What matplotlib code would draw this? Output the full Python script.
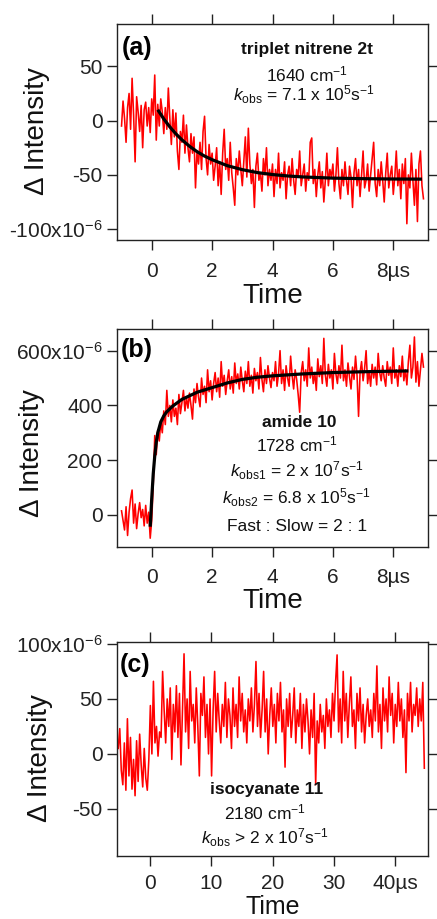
import numpy as np
import matplotlib
matplotlib.use("Agg")
import matplotlib.pyplot as plt
from matplotlib.ticker import FixedLocator, FixedFormatter

plt.rcParams['font.family'] = ['Liberation Sans', 'DejaVu Sans']
plt.rcParams['mathtext.fontset'] = 'custom'
plt.rcParams['mathtext.rm'] = 'Liberation Sans'
plt.rcParams['mathtext.it'] = 'Liberation Sans:italic'
plt.rcParams['mathtext.bf'] = 'Liberation Sans:bold'

# ---------------- data (x10^-6) ----------------
# panel (a): triplet nitrene 2t, t = -1.00 ... 9.00 us step 0.05
t_a_start, t_a_step = -1.0, 0.05
sig_a = [
    -5, 18, 2, -20, 12, 25, -8, 39, 5, -38, 22, 8, -10, 14, -25, 10, 17, -5, 12, -11, 20, 5, 42, -18,
    15, -5, 20, 8, -12, 12, -8, 30, 2, -22, 10, -15, 7, -28, -45, -10, -20, 5, -30, -4, -25, -38, -12,
    -30, -15, -62, -28, -40, -20, -45, -10, 4, -35, -50, -22, -40, -30,
    -55, -42, -25, -60, -38, -68, -30, -8, -45, -35, -55, -20, -48, -62, -78, -35, -50, -28, -45, -60,
    -38, -15, -52, -7, -40, -58, -45, -80, -42, -30, -55, -48, -65, -35, -50, -25, -60, -45, -55, -40,
    -70, -45, -58, -30, -62, -48, -55, -38, -72, -50, -42, -60, -35, -55, -68, -45, -52, -28, -60, -50,
    -40, -65, -48, -55, -20, -16, -58, -45, -70, -50, -38, -62, -47, -75, -55, -30, -60, -45, -52, -40,
    -65, -50, -25, -58, -72, -45, -60, -38, -55, -68, -42, -52, -80, -48, -35, -60, -45, -70, -50, -28,
    -62, -55, -40, -65, -50, -35, -20, -58, -70, -45, -60, -38, -55, -75, -48, -30, -62, -50, -42, -68,
    -52, -28, -60, -45, -72, -40, -58, -35, -95, -50, -62, -30, -55, -78, -45, -93, -40, -28, -60, -72,
]
fit_a_t = [0.2, 0.4, 0.6, 0.8, 1.0, 1.25, 1.5, 1.75, 2.0, 2.5, 3.0, 3.5, 4.0, 4.5, 5.0, 6.0, 7.0, 8.0, 8.95]
fit_a_y = [10, 1.5, -5.8, -12.2, -17.7, -23.6, -28.6, -32.7, -36, -41.5, -45.2, -47.9, -49.7, -51,
           -51.9, -53, -53.5, -53.8, -53.9]

# panel (b): amide 10, t = -1.00 ... 9.00 us step 0.05
t_b_start, t_b_step = -1.0, 0.05
sig_b = [
    15, -20, -55, 30, -75, 10, 60, 91, -30, 40, -50, 5, 45, -10, 20, -40, 35, -30, 10, -85,
    -20, 110, 290, 220, 310, 270, 340, 300, 380, 330, 455, 360, 400, 340, 420, 360, 390, 330, 440, 370,
    410, 455, 380, 430, 390, 445, 400, 350, 460, 410, 480, 430, 395, 500, 440, 470, 410, 530, 450, 490, 420,
    480, 520, 450, 500, 430, 560, 470, 510, 440, 490, 530, 460, 505, 445, 555, 480, 515, 460, 540, 490,
    450, 525, 480, 560, 470, 510, 445, 535, 490, 520, 460, 575, 495, 450, 530, 480, 545, 500, 465, 520,
    490, 560, 470, 515, 600, 480, 530, 455, 545, 500, 470, 580, 510, 460, 530, 495, 440, 375, 520, 560,
    490, 530, 470, 610, 500, 540, 480, 520, 455, 570, 505, 545, 480, 645, 510, 470, 550, 500, 530, 460,
    590, 515, 480, 545, 500, 620, 490, 530, 470, 555, 505, 460, 540, 495, 580, 510, 360, 520, 560, 490,
    535, 600, 480, 525, 470, 550, 500, 540, 475, 590, 520, 490, 545, 500, 470, 560, 510, 540, 480, 610,
    500, 530, 470, 545, 505, 580, 490, 530, 475, 560, 620, 500, 540, 650, 485, 560, 470, 530, 590, 540,
]
fit_b_t = [-0.05, 0.0, 0.05, 0.1, 0.15, 0.2, 0.3, 0.4, 0.5, 0.7, 1.0, 1.5, 2.0, 2.5, 3.0, 3.5, 4.0,
           5.0, 6.0, 7.0, 8.0, 8.5]
fit_b_y = [-43, 60, 150, 215, 265, 300, 340, 362, 377, 398, 422, 448, 465, 482, 495, 503, 508,
           515, 520, 523, 525, 526]

# panel (c): isocyanate 11, t = -5.2 ... 44.8 us step 0.25
t_c_start, t_c_step = -5.2, 0.25
sig_c = [
    5, 23, -15, -28, 10, -33, 32, -20, 15, -32, -5, -38, 12, -25, 18, -10, -30, 5, -22, -33, -5,
    44, 0, 66, 10, 25, -2, 20, 15, 75, 40, 10, 50, 25, 60, -5, 45, 20, 62, 15, 55,
    -10, 40, 91, 20, 50, 5, 75, 30, 45, 10, 60, 25, -20, 55, 35, 70, 15, 45, 0, 50, -20,
    40, 75, 20, 55, 30, 10, 45, 25, 65, 15, 50, 35, 5, 60, 25, 45, 15, 70, 30, 55,
    20, 40, 10, 50, 30, 60, 20, 45, 84, 25, 55, 15, 40, 75, 20, 50, 0, 35, 60, 25,
    45, 10, 55, 30, 65, 20, 40, -12, 50, 25, 55, 15, 35, 60, 10, 40, 25, 55, 5, 45,
    20, 50, 30, 0, 40, 15, 55, -28, 30, 10, 45, 20, 35, 5, 50, 25, 40, 15, 55, 30,
    65, 90, 20, 50, 10, 75, 30, 55, 15, 45, 70, 25, 40, 5, 55, 30, 60, 20, 45, 10,
    35, 50, 25, 40, 15, 55, 30, 80, 20, 45, 5, 60, 30, 50, 20, 70, 35, 55, 10, 45,
    25, 65, 30, 50, 15, 40, -17, 55, 30, 65, 20, 45, 35, 60, 25, 50, 30, 65, -13,
]

xticks_ab = [0, 2, 4, 6, 8]
xticklabels_ab = ['0', '2', '4', '6', '8µs']
xticks_c = [0, 10, 20, 30, 40]
xticklabels_c = ['0', '10', '20', '30', '40µs']
yticks_a = [-100, -50, 0, 50]
yticklabels_a = ['-100x10$^{-6}$', '-50', '0', '50']
yticks_b = [0, 200, 400, 600]
yticklabels_b = ['0', '200', '400', '600x10$^{-6}$']
yticks_c = [-50, 0, 50, 100]
yticklabels_c = ['-50', '0', '50', '100x10$^{-6}$']

RED = '#ff0000'
W, H = 437, 919
fig = plt.figure(figsize=(W / 100, H / 100), dpi=100)


def make_ax(top, bottom, left=117, right=428):
    return fig.add_axes([left / W, 1 - bottom / H, (right - left) / W, (bottom - top) / H])


def style(ax, xt, xtl, yt, ytl, xlim, ylim, ylab_xy, xlab_y, xlab_size=20, xpad=8):
    ax.set_xlim(*xlim)
    ax.set_ylim(*ylim)
    ax.xaxis.set_major_locator(FixedLocator(xt))
    ax.xaxis.set_major_formatter(FixedFormatter(xtl))
    ax.yaxis.set_major_locator(FixedLocator(yt))
    ax.yaxis.set_major_formatter(FixedFormatter(ytl))
    ax.tick_params(direction='out', length=7.5, width=1.0, top=True, right=True,
                   labeltop=False, labelright=False, labelsize=15, colors='#222222')
    ax.tick_params(axis='x', pad=xpad)
    ax.tick_params(axis='y', pad=3)
    for s in ax.spines.values():
        s.set_linewidth(1.0)
        s.set_color('#222222')
    ax.set_xlabel('Time', fontsize=xlab_size, color='#111111')
    ax.set_ylabel('Δ Intensity', fontsize=20, color='#111111')
    ax.yaxis.set_label_coords(*ylab_xy)
    ax.xaxis.set_label_coords(0.5, xlab_y)


def txt(ax, x, y, s, **kw):
    kw.setdefault('fontsize', 12.5)
    ax.text(x, y, s, transform=ax.transAxes, ha='center', va='baseline', color='#111111', **kw)


# ---- panel (a)
ax = make_ax(24, 240)
ta = t_a_start + t_a_step * np.arange(len(sig_a))
ax.plot(ta, sig_a, color=RED, lw=1.15)
ax.plot(fit_a_t, fit_a_y, color='black', lw=2.3, solid_capstyle='butt')
style(ax, xticks_ab, xticklabels_ab, yticks_a, yticklabels_a, (-1.15, 9.15), (-110, 89),
      (-0.215, 0.505), -0.199)
ax.text(0.016, 0.944, '(a)', transform=ax.transAxes, fontsize=18, fontweight='bold', va='top', ha='left')
txt(ax, 0.611, 0.863, 'triplet nitrene 2t', fontweight='bold')
txt(ax, 0.610, 0.733, '1640 cm$^{-1}$')
txt(ax, 0.601, 0.644, '$k_{\\mathrm{obs}}$ = 7.1 x 10$^{5}$s$^{-1}$')

# ---- panel (b)
ax = make_ax(329.3, 546.7)
tb = t_b_start + t_b_step * np.arange(len(sig_b))
ax.plot(tb, sig_b, color=RED, lw=1.15)
ax.plot(fit_b_t, fit_b_y, color='black', lw=2.3, solid_capstyle='butt')
style(ax, xticks_ab, xticklabels_ab, yticks_b, yticklabels_b, (-1.15, 9.15), (-116, 678),
      (-0.23, 0.433), -0.188)
ax.text(0.013, 0.96, '(b)', transform=ax.transAxes, fontsize=18, fontweight='bold', va='top', ha='left')
txt(ax, 0.587, 0.552, 'amide 10', fontweight='bold')
txt(ax, 0.578, 0.437, '1728 cm$^{-1}$')
txt(ax, 0.578, 0.322, '$k_{\\mathrm{obs1}}$ = 2 x 10$^{7}$s$^{-1}$')
txt(ax, 0.578, 0.196, '$k_{\\mathrm{obs2}}$ = 6.8 x 10$^{5}$s$^{-1}$')
txt(ax, 0.578, 0.074, 'Fast : Slow = 2 : 1')

# ---- panel (c)
ax = make_ax(641.7, 855.7)
tc = t_c_start + t_c_step * np.arange(len(sig_c))
ax.plot(tc, sig_c, color=RED, lw=1.15)
style(ax, xticks_c, xticklabels_c, yticks_c, yticklabels_c, (-5.4, 45.4), (-92.5, 102),
      (-0.206, 0.457), -0.183, xlab_size=18, xpad=5.5)
ax.text(0.010, 0.946, '(c)', transform=ax.transAxes, fontsize=18, fontweight='bold', va='top', ha='left')
txt(ax, 0.482, 0.288, 'isocyanate 11', fontweight='bold')
txt(ax, 0.476, 0.170, '2180 cm$^{-1}$')
txt(ax, 0.474, 0.058, '$k_{\\mathrm{obs}}$ > 2 x 10$^{7}$s$^{-1}$')

fig.savefig('out.png', dpi=100)
